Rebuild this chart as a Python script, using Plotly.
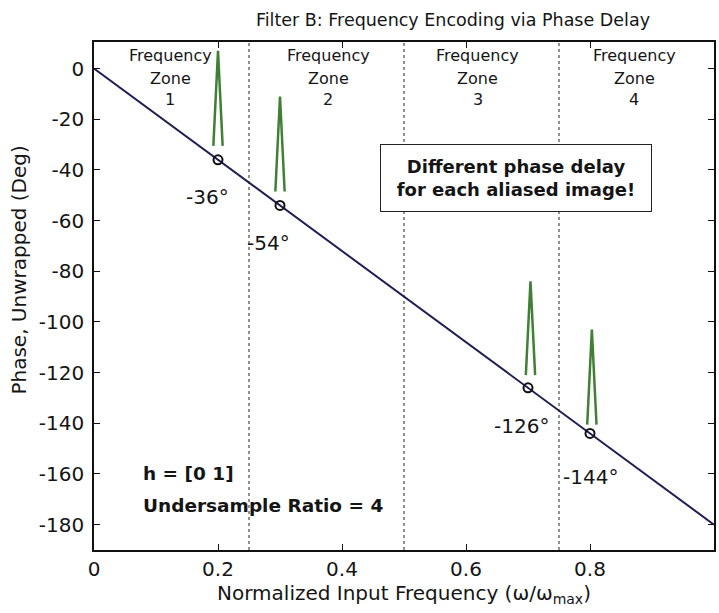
import plotly.graph_objects as go

# Data
line_x = [0.0, 1.0]
line_y = [0.0, -180.0]

point_x = [0.2, 0.3, 0.7, 0.8]
point_y = [-36, -54, -126, -144]
point_labels = ["-36°", "-54°", "-126°", "-144°"]
label_x = [0.183, 0.282, 0.690, 0.800]
label_y = [-50.6, -69, -141, -161]

spike_center = [0.2, 0.3, 0.704, 0.803]
spike_half_width = [0.0075, 0.0075, 0.0075, 0.0075]
spike_base = [-30.5, -48.5, -121, -140.5]
spike_top = [7, -11, -84, -103]

zone_bounds = [0.25, 0.5, 0.75]
zone_label_x = [0.123, 0.378, 0.619, 0.871]
zone_names = ["1", "2", "3", "4"]
zone_line_y = [5.2, -3.8, -12.3]

x_ticks = [0, 0.2, 0.4, 0.6, 0.8, 1]
x_ticktext = ["0", "0.2", "0.4", "0.6", "0.8", "1"]
y_ticks = [0, -20, -40, -60, -80, -100, -120, -140, -160, -180]
y_ticktext = [str(v) for v in y_ticks]

FONT = "DejaVu Sans, Liberation Sans, Arial, sans-serif"
TXT = "#151515"

fig = go.Figure()

# dotted zone boundaries
for xb in zone_bounds:
    fig.add_trace(go.Scatter(x=[xb, xb], y=[-190, 10.5], mode="lines",
                             line=dict(color="#222", width=1, dash="dot"),
                             showlegend=False, hoverinfo="skip"))

# main phase line
fig.add_trace(go.Scatter(x=line_x, y=line_y, mode="lines",
                         line=dict(color="#1e1e52", width=2),
                         showlegend=False))

# green spikes
for c, hw, b, t in zip(spike_center, spike_half_width, spike_base, spike_top):
    fig.add_trace(go.Scatter(x=[c - hw, c, c + hw], y=[b, t, b], mode="lines",
                             line=dict(color="#3f8034", width=2.5),
                             showlegend=False))

# points
fig.add_trace(go.Scatter(x=point_x, y=point_y, mode="markers",
                         marker=dict(symbol="circle-open", size=9, color="#111",
                                     line=dict(width=2)),
                         showlegend=False))

# point labels
for lx, ly, txt in zip(label_x, label_y, point_labels):
    fig.add_annotation(x=lx, y=ly, text=txt, showarrow=False,
                       font=dict(family=FONT, size=20, color=TXT))

# zone labels
for zx, zn in zip(zone_label_x, zone_names):
    for ly, t in zip(zone_line_y, ["Frequency", "Zone", zn]):
        fig.add_annotation(x=zx, y=ly, text=t, showarrow=False,
                           font=dict(family=FONT, size=16, color=TXT))

# boxed text
fig.add_annotation(x=0.68, y=-43, text="<b>Different phase delay<br>for each aliased image!</b>",
                   showarrow=False, bordercolor="#222", borderwidth=1, borderpad=2,
                   width=266, height=62, align="center",
                   bgcolor="white", font=dict(family=FONT, size=18, color=TXT))

fig.add_annotation(x=0.076, y=-160, xanchor="left", text="<b>h = [0 1]</b>",
                   showarrow=False, font=dict(family=FONT, size=18.5, color=TXT))
fig.add_annotation(x=0.076, y=-172.6, xanchor="left", text="<b>Undersample Ratio = 4</b>",
                   showarrow=False, font=dict(family=FONT, size=18.5, color=TXT))

# y-axis title (as rotated annotation to match placement)
fig.add_annotation(xref="paper", yref="paper", x=-0.121, y=0.552,
                   text="Phase, Unwrapped (Deg)", textangle=-90, showarrow=False,
                   xanchor="center", yanchor="middle",
                   font=dict(family=FONT, size=20, color=TXT))

fig.update_layout(
    width=719, height=613,
    margin=dict(l=94, r=3, t=42, b=63),
    paper_bgcolor="white", plot_bgcolor="white",
    font=dict(family=FONT, color=TXT),
    title=dict(text="Filter B: Frequency Encoding via Phase Delay",
               x=0.63, xanchor="center", y=0.967, yanchor="middle",
               font=dict(family=FONT, size=17.5, color=TXT)),
    xaxis=dict(range=[0, 1], tickvals=x_ticks, ticktext=x_ticktext,
               ticks="inside", ticklen=6, tickcolor="#111", mirror="ticks",
               showline=True, linecolor="#111", linewidth=1.5, showgrid=False,
               zeroline=False, tickfont=dict(size=20),
               title=dict(text="Normalized Input Frequency (ω/ω<sub>max</sub>)",
                          font=dict(size=20), standoff=5)),
    yaxis=dict(range=[-190, 10.5], tickvals=y_ticks, ticktext=y_ticktext,
               ticks="inside", ticklen=6, tickcolor="#111", mirror="ticks",
               showline=True, linecolor="#111", linewidth=1.5, showgrid=False,
               zeroline=False, tickfont=dict(size=20), ticklabelstandoff=4),
)

fig.write_html("out.html")
